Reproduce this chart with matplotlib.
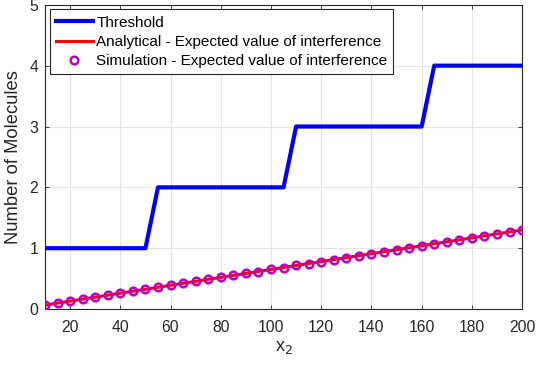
import matplotlib
matplotlib.use("Agg")
import matplotlib.pyplot as plt

plt.rcParams['font.family'] = ['Liberation Sans', 'DejaVu Sans']

# Threshold (step-like curve)
thr_x = [10, 50, 55, 105, 110, 160, 165, 200]
thr_y = [1, 1, 2, 2, 3, 3, 4, 4]

# Analytical / simulation expected interference
x2 = [10, 15, 20, 25, 30, 35, 40, 45, 50, 55, 60, 65, 70, 75, 80, 85, 90, 95,
      100, 105, 110, 115, 120, 125, 130, 135, 140, 145, 150, 155, 160, 165,
      170, 175, 180, 185, 190, 195, 200]
analytical = [0.065, 0.098, 0.130, 0.163, 0.195, 0.228, 0.260, 0.293, 0.325,
              0.358, 0.390, 0.423, 0.455, 0.488, 0.520, 0.553, 0.585, 0.618,
              0.650, 0.683, 0.715, 0.748, 0.780, 0.813, 0.845, 0.878, 0.910,
              0.943, 0.975, 1.008, 1.040, 1.073, 1.105, 1.138, 1.170, 1.203,
              1.235, 1.268, 1.300]
simulation = [0.066, 0.097, 0.131, 0.162, 0.196, 0.227, 0.261, 0.292, 0.326,
              0.357, 0.391, 0.422, 0.456, 0.487, 0.521, 0.552, 0.586, 0.617,
              0.651, 0.682, 0.716, 0.747, 0.781, 0.812, 0.846, 0.877, 0.911,
              0.942, 0.976, 1.007, 1.041, 1.072, 1.106, 1.137, 1.171, 1.202,
              1.236, 1.267, 1.301]

fig = plt.figure(figsize=(5.37, 3.71), dpi=100)
ax = fig.add_axes([0.0838, 0.167, 0.8885, 0.820])

ax.plot(thr_x, thr_y, color='#0000ff', lw=3, label='Threshold', zorder=3)
ax.plot(x2, analytical, color='#ff0000', lw=2.2, label='Analytical - Expected value of interference', zorder=4)
ax.plot(x2, simulation, linestyle='none', marker='o', markersize=5.5, markerfacecolor='none',
        markeredgecolor='#bf00bf', markeredgewidth=1.8,
        label='Simulation - Expected value of interference', zorder=5)

ax.set_xlim(10, 200)
ax.set_ylim(0, 5)
ax.set_xticks([20, 40, 60, 80, 100, 120, 140, 160, 180, 200])
ax.set_yticks([0, 1, 2, 3, 4, 5])
ax.grid(True, color='#e3e3e3', lw=0.8)
ax.set_axisbelow(True)
ax.tick_params(direction='in', top=True, right=True, length=3, width=0.6,
               labelsize=11.3, colors='#262626')
ax.tick_params(axis='x', pad=8)
ax.tick_params(axis='y', pad=5)
for s in ax.spines.values():
    s.set_color('#262626')
    s.set_linewidth(0.8)

ax.set_xlabel('x$_2$', fontsize=13, color='#262626', labelpad=3)
ax.set_ylabel('Number of Molecules', fontsize=13.2, color='#262626', labelpad=5)

leg = ax.legend(loc='upper left', fontsize=11, frameon=True, fancybox=False,
                edgecolor='#262626', framealpha=1, borderpad=0.4, labelspacing=0.35,
                handlelength=2.45, handletextpad=0.2, borderaxespad=0.3)
leg.get_frame().set_linewidth(0.8)

fig.savefig('out.png', dpi=100)
